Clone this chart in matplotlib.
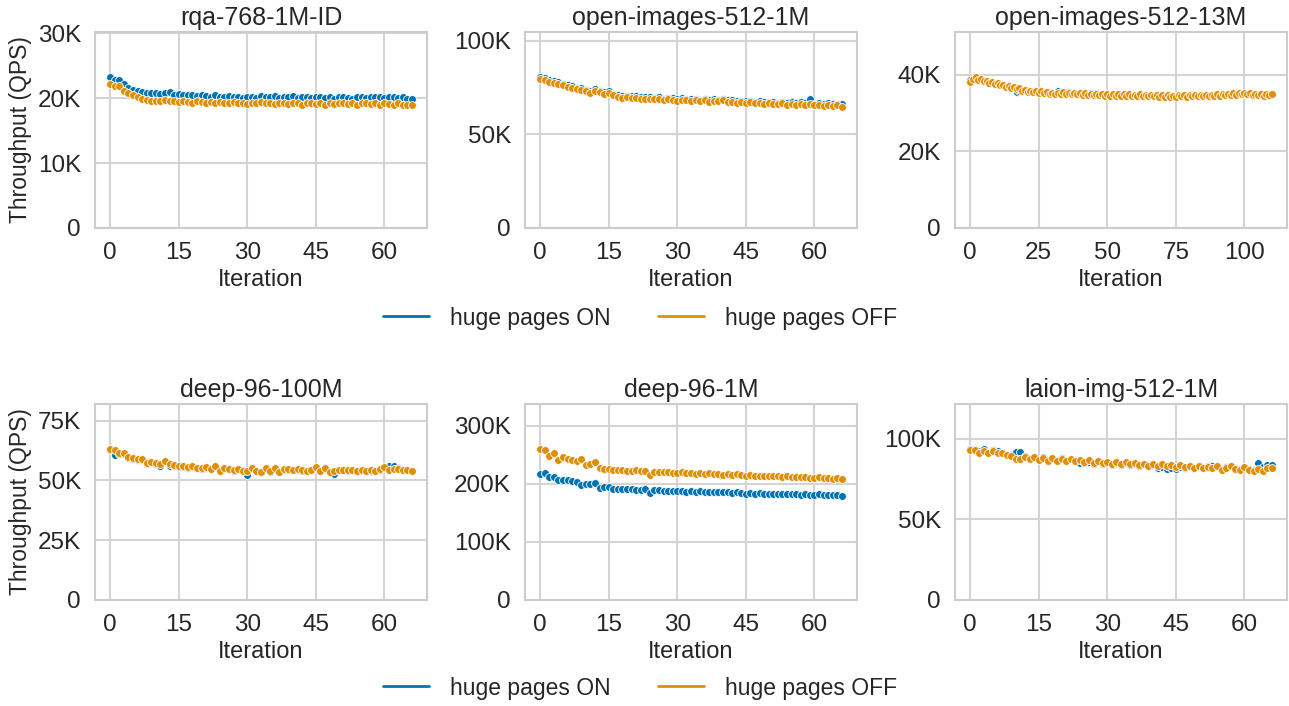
import numpy as np
import matplotlib.pyplot as plt
import seaborn as sns
from matplotlib.ticker import MultipleLocator, FuncFormatter
from matplotlib.lines import Line2D

# throughput values in thousands of QPS, one entry per iteration
titles = ["rqa-768-1M-ID", "open-images-512-1M", "open-images-512-13M",
          "deep-96-100M", "deep-96-1M", "laion-img-512-1M"]

rqa_on = [23.2, 22.7, 22.8, 22.2, 21.6, 21.3, 21.1, 20.9, 20.8, 20.7,
          20.8, 20.6, 20.7, 20.9, 20.5, 20.6, 20.5, 20.4, 20.5, 20.3,
          20.4, 20.3, 20.2, 20.4, 20.2, 20.1, 20.3, 20.1, 20.2, 20.0,
          20.1, 20.2, 20.0, 20.3, 20.1, 20.2, 20.3, 20.0, 20.2, 20.1,
          20.3, 20.0, 20.2, 20.1, 20.0, 20.2, 20.1, 20.0, 20.2, 19.9,
          20.1, 20.2, 20.0, 19.9, 20.1, 20.2, 20.0, 20.2, 20.1, 20.2,
          20.0, 20.2, 20.1, 20.0, 20.1, 19.9, 19.8]
rqa_off = [22.2, 21.8, 21.9, 21.1, 20.7, 20.4, 20.2, 19.9, 19.7, 19.6,
           19.5, 19.6, 19.7, 19.5, 19.6, 19.4, 19.5, 19.4, 19.3, 19.5,
           19.4, 19.2, 19.4, 19.3, 19.4, 19.2, 19.3, 19.4, 19.2, 19.3,
           19.1, 19.3, 19.2, 19.4, 19.2, 19.3, 19.1, 19.3, 19.2, 19.1,
           19.3, 19.2, 19.0, 19.2, 19.3, 19.1, 19.2, 19.0, 19.2, 19.1,
           19.3, 19.2, 19.1, 19.3, 19.0, 19.2, 19.3, 19.1, 19.2, 19.0,
           19.2, 19.1, 19.0, 19.2, 19.0, 18.9, 18.9]

oi1m_on = [80.6, 80.4, 79.3, 78.6, 77.9, 77.2, 76.5, 75.7, 75.0, 74.6,
           74.0, 73.2, 74.2, 73.4, 72.6, 73.3, 71.9, 71.0, 70.5, 70.8,
           70.3, 70.5, 69.9, 69.8, 70.1, 69.5, 69.8, 69.2, 69.6, 69.3,
           68.9, 69.3, 69.0, 68.8, 69.2, 68.6, 69.0, 68.4, 68.7, 68.5,
           69.1, 68.3, 68.2, 67.9, 68.1, 67.7, 68.0, 67.4, 67.7, 67.2,
           67.6, 67.3, 67.0, 67.4, 66.9, 67.2, 66.8, 67.2, 66.7, 69.0,
           66.5, 66.8, 66.3, 66.7, 66.1, 66.4, 66.3]
oi1m_off = [79.4, 79.0, 78.2, 77.6, 76.9, 76.2, 75.5, 74.8, 74.2, 73.6,
            73.0, 72.0, 73.1, 72.5, 71.5, 72.4, 71.0, 70.0, 69.6, 69.9,
            69.4, 69.6, 69.0, 68.9, 69.2, 68.7, 69.0, 68.4, 68.8, 68.5,
            68.0, 68.5, 68.2, 68.0, 68.4, 67.8, 68.2, 67.6, 67.9, 67.7,
            68.4, 67.5, 67.4, 67.0, 67.3, 66.8, 67.2, 66.6, 66.9, 66.3,
            66.8, 66.4, 66.1, 66.6, 66.0, 66.3, 65.9, 66.4, 65.8, 66.2,
            65.6, 66.0, 65.4, 65.8, 65.2, 65.5, 64.6]

oi13m_on = [38.6, 38.7, 39.2, 38.9, 38.7, 38.5, 38.4, 38.1, 38.0, 37.7,
            37.7, 37.4, 37.3, 37.0, 37.0, 36.7, 36.6, 35.5, 35.7, 35.9,
            36.0, 35.7, 35.8, 35.6, 35.7, 35.5, 35.6, 35.3, 35.4, 35.2,
            35.4, 35.3, 35.8, 35.6, 35.6, 35.2, 35.5, 35.0, 35.4, 35.0,
            35.4, 35.0, 35.4, 35.0, 35.4, 34.8, 35.4, 34.8, 35.1, 34.7,
            34.9, 34.6, 34.9, 34.6, 34.9, 34.5, 34.8, 34.5, 34.8, 34.5,
            34.8, 34.5, 34.8, 34.4, 34.8, 34.4, 34.7, 34.4, 34.7, 34.3,
            34.7, 34.3, 34.6, 34.3, 34.6, 34.3, 34.6, 34.4, 34.6, 34.3,
            34.7, 34.4, 34.7, 34.4, 34.7, 34.4, 34.7, 34.5, 34.7, 34.5,
            34.8, 34.5, 34.9, 34.7, 35.0, 34.8, 35.1, 34.8, 35.2, 34.9,
            35.2, 34.9, 35.1, 34.8, 35.0, 34.7, 34.9, 34.6, 34.8, 34.8,
            35.0]
oi13m_off = [38.1, 38.9, 39.4, 38.8, 38.9, 38.4, 38.5, 38.0, 38.1, 37.6,
             37.8, 37.3, 37.4, 36.9, 37.1, 36.6, 36.8, 36.3, 36.6, 35.9,
             36.1, 35.6, 35.9, 35.5, 35.8, 35.4, 35.7, 35.2, 35.5, 35.1,
             35.3, 35.0, 35.4, 35.0, 35.5, 35.1, 35.4, 34.9, 35.3, 34.9,
             35.2, 34.8, 35.2, 34.8, 35.1, 34.7, 35.1, 34.7, 35.0, 34.6,
             34.9, 34.6, 35.0, 34.6, 34.9, 34.5, 34.9, 34.5, 34.9, 34.5,
             34.8, 34.5, 34.9, 34.4, 34.8, 34.4, 34.8, 34.4, 34.7, 34.3,
             34.7, 34.3, 34.7, 34.3, 34.6, 34.3, 34.7, 34.4, 34.7, 34.3,
             34.7, 34.4, 34.8, 34.4, 34.7, 34.4, 34.8, 34.5, 34.8, 34.5,
             34.9, 34.5, 35.0, 34.7, 35.1, 34.8, 35.2, 34.8, 35.3, 34.9,
             35.3, 34.9, 35.2, 34.8, 35.1, 34.7, 35.0, 34.6, 34.9, 34.8,
             35.0]

deep100m_on = [62.6, 60.6, 61.2, 61.0, 59.5, 59.0, 58.5, 58.6, 56.9, 57.4,
               56.7, 56.2, 57.6, 56.0, 55.8, 55.6, 55.6, 55.3, 55.5, 55.0,
               54.9, 55.2, 54.7, 55.5, 53.9, 55.0, 54.6, 54.1, 54.7, 53.7,
               52.2, 55.0, 53.8, 53.5, 54.8, 53.6, 54.8, 53.3, 54.5, 54.5,
               54.3, 54.5, 54.1, 53.7, 54.4, 55.2, 53.7, 54.9, 53.5, 52.8,
               54.3, 54.4, 54.1, 54.2, 53.9, 54.4, 54.0, 54.1, 53.7, 54.5,
               55.2, 55.8, 56.0, 55.2, 54.2, 54.4, 53.8]
deep100m_off = [63.0, 62.7, 61.4, 61.3, 59.7, 59.2, 58.8, 58.9, 57.1, 57.8,
                57.2, 56.8, 58.2, 56.7, 56.4, 56.1, 56.0, 55.6, 55.8, 55.3,
                55.1, 55.4, 54.9, 55.8, 54.1, 55.2, 54.8, 54.3, 54.9, 53.9,
                54.0, 55.3, 53.9, 53.6, 55.0, 53.7, 55.0, 53.4, 54.7, 54.6,
                54.4, 54.6, 54.2, 53.8, 54.5, 55.4, 53.8, 55.1, 53.6, 54.0,
                54.4, 54.5, 54.2, 54.3, 54.0, 54.5, 54.1, 54.2, 53.8, 54.6,
                55.4, 54.3, 54.6, 54.9, 54.3, 54.5, 53.9]

deep1m_on = [217.1, 218.3, 211.4, 211.0, 205.7, 206.5, 206.0, 205.2, 202.3, 198.3,
             199.5, 199.0, 201.0, 192.6, 194.0, 194.0, 190.9, 191.5, 191.0, 190.2,
             190.9, 190.0, 189.5, 190.2, 184.0, 188.5, 188.8, 187.5, 188.0, 187.0,
             186.9, 187.8, 186.5, 187.2, 186.0, 186.8, 185.8, 186.3, 185.5, 186.0,
             185.0, 185.8, 184.5, 185.2, 184.0, 182.9, 184.0, 183.0, 183.6, 182.5,
             182.9, 182.0, 182.8, 181.8, 182.4, 181.7, 182.2, 181.3, 181.9, 181.0,
             181.1, 181.8, 180.6, 181.2, 180.2, 180.6, 179.4]
deep1m_off = [259.4, 258.3, 248.0, 252.6, 241.0, 245.7, 242.0, 241.0, 238.3, 242.0,
              232.6, 234.0, 236.6, 226.9, 225.5, 226.2, 224.0, 223.5, 224.2, 222.8,
              222.3, 223.0, 221.8, 222.5, 215.4, 220.5, 221.0, 219.8, 220.3, 219.0,
              218.3, 219.5, 218.0, 218.8, 217.5, 218.2, 217.0, 217.8, 216.5, 217.2,
              215.4, 216.5, 215.0, 216.0, 214.5, 213.7, 214.8, 213.5, 214.2, 213.0,
              213.5, 212.5, 213.2, 212.0, 212.6, 210.9, 212.0, 211.0, 211.5, 210.5,
              209.7, 211.0, 209.5, 210.2, 209.0, 209.6, 208.6]

laion_on = [93.3, 93.0, 92.0, 93.4, 91.8, 93.0, 92.0, 91.2, 90.0, 89.6,
            91.7, 91.8, 89.0, 88.0, 88.6, 87.2, 88.3, 86.9, 88.2, 86.8,
            87.9, 86.5, 87.6, 86.3, 85.0, 84.8, 85.6, 84.5, 85.3, 84.0,
            84.8, 83.8, 84.6, 83.5, 84.7, 83.6, 84.2, 83.2, 84.0, 83.3,
            83.6, 81.6, 82.4, 81.4, 82.0, 81.2, 82.2, 82.0, 82.5, 81.5,
            82.6, 81.7, 82.8, 83.0, 83.3, 81.2, 82.4, 83.0, 81.8, 81.0,
            82.5, 81.2, 80.8, 85.0, 82.6, 83.5, 83.4]
laion_off = [92.9, 92.8, 91.3, 92.5, 91.0, 92.3, 91.2, 91.0, 89.6, 89.0,
             87.5, 87.1, 88.6, 87.4, 88.3, 86.7, 88.0, 86.4, 87.8, 86.2,
             87.6, 86.0, 87.2, 86.0, 86.8, 85.4, 86.5, 85.0, 86.0, 84.6,
             85.5, 84.4, 85.2, 84.0, 85.4, 84.2, 84.8, 83.5, 84.2, 83.2,
             84.0, 82.8, 84.2, 83.0, 83.8, 82.6, 83.4, 82.2, 83.0, 81.8,
             82.8, 81.5, 82.5, 81.8, 83.0, 80.4, 82.0, 82.8, 81.4, 80.5,
             82.2, 80.8, 79.8, 81.4, 80.2, 81.6, 81.9]

series_on = [rqa_on, oi1m_on, oi13m_on, deep100m_on, deep1m_on, laion_on]
series_off = [rqa_off, oi1m_off, oi13m_off, deep100m_off, deep1m_off, laion_off]
y_steps = [10, 50, 20, 25, 100, 50]     # thousands
x_steps = [15, 15, 25, 15, 15, 15]

blue = "#0173b2"
orange = "#de8f05"
ink = "#262626"

sns.set_theme(style="whitegrid")
plt.rcParams["font.family"] = ["Liberation Sans", "DejaVu Sans"]
plt.rcParams["axes.edgecolor"] = "#cccccc"
plt.rcParams["axes.linewidth"] = 1.5
plt.rcParams["grid.linewidth"] = 1.5
plt.rcParams["grid.color"] = "#d4d4d4"

fig = plt.figure(figsize=(12.89, 7.06), dpi=100)

lefts = [95 / 1289, 525 / 1289, 955 / 1289]
bottoms = [1 - 228 / 706, 1 - 600 / 706]
w, h = 332 / 1289, 196 / 706

kfmt = FuncFormatter(lambda v, p: "0" if v == 0 else f"{int(round(v / 1000))}K")

for i, title in enumerate(titles):
    r, c = divmod(i, 3)
    ax = fig.add_axes([lefts[c], bottoms[r], w, h])
    on = np.array(series_on[i]) * 1000
    off = np.array(series_off[i]) * 1000
    ax.scatter(np.arange(len(on)), on, s=32, color=blue, edgecolor="white", linewidth=0.6, zorder=3)
    ax.scatter(np.arange(len(off)), off, s=32, color=orange, edgecolor="white", linewidth=0.6, zorder=3)
    ymax = max(on.max(), off.max()) * 1.3
    ax.set_ylim(0, ymax)
    ax.yaxis.set_major_locator(MultipleLocator(y_steps[i] * 1000))
    ax.yaxis.set_major_formatter(kfmt)
    ax.xaxis.set_major_locator(MultipleLocator(x_steps[i]))
    ax.tick_params(labelsize=17.5, colors=ink, pad=4)
    ax.set_title(title, fontsize=18, color=ink, pad=5)
    ax.set_xlabel("Iteration", fontsize=17, color=ink, labelpad=4)
    if c == 0:
        ax.set_ylabel("Throughput (QPS)", fontsize=16.5, color=ink, labelpad=4)
    for s in ax.spines.values():
        s.set_color("#cccccc")

handles = [Line2D([], [], color=blue, lw=2), Line2D([], [], color=orange, lw=2)]
labels = ["huge pages ON", "huge pages OFF"]
for yc in [1 - 318 / 706, 1 - 688 / 706]:
    fig.legend(handles, labels, loc="center", bbox_to_anchor=(640 / 1289, yc), ncol=2,
               frameon=False, fontsize=16.5, handlelength=2.0, handletextpad=0.9,
               columnspacing=2.1, labelcolor=ink)

fig.savefig("out.png", dpi=100)
